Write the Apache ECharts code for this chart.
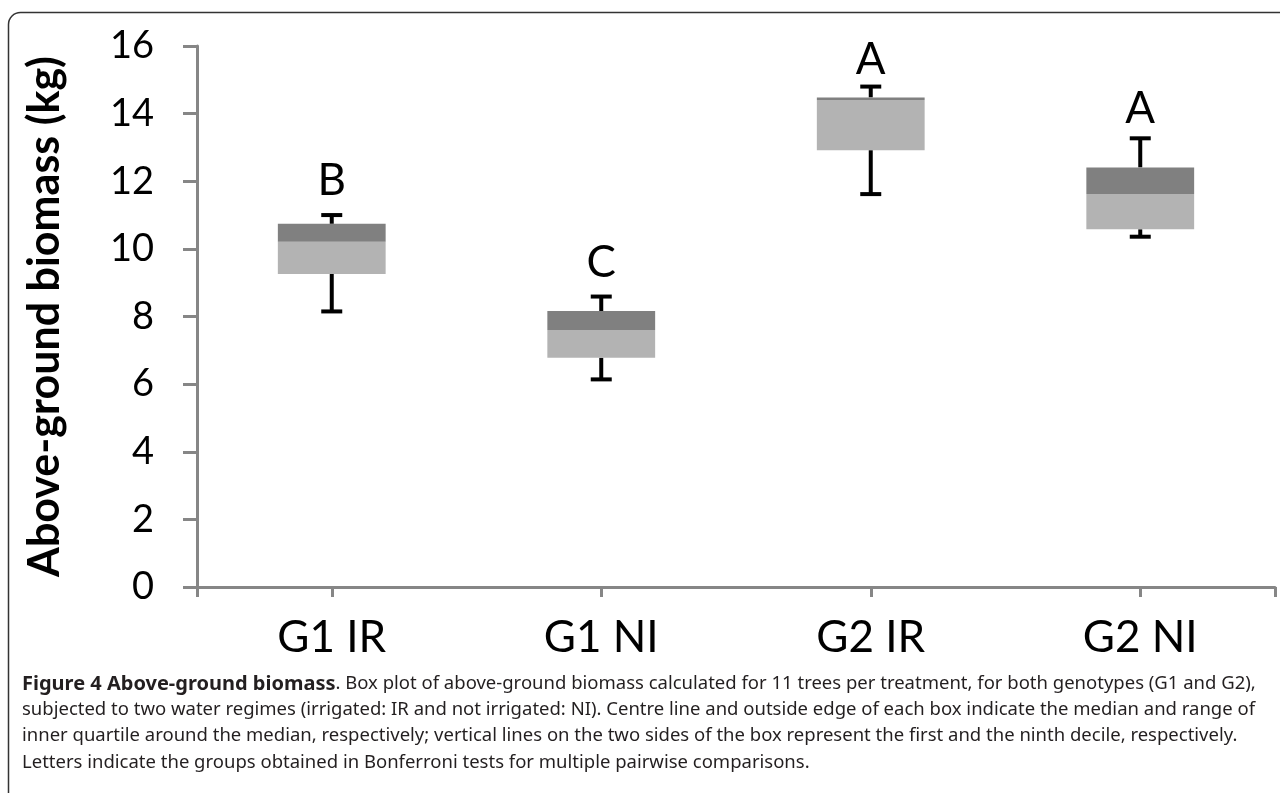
<!DOCTYPE html>
<html>
<head>
<meta charset="utf-8">
<script src="https://cdn.jsdelivr.net/npm/echarts@6/dist/echarts.min.js"></script>
<style>
  html, body { margin: 0; padding: 0; background: #fff; }
  #chart { width: 1280px; height: 793px; }
</style>
</head>
<body>
<div id="chart"></div>
<script>
// ---- data ----
const categories = ['G1 IR', 'G1 NI', 'G2 IR', 'G2 NI'];
const firstDecile = [8.15, 6.14, 11.62, 10.36];
const lowerQuartile = [9.26, 6.78, 12.92, 10.58];
const medians = [10.21, 7.60, 14.40, 11.62];
const upperQuartile = [10.74, 8.16, 14.48, 12.41];
const ninthDecile = [11.0, 8.59, 14.80, 13.27];
const groupLetters = ['B', 'C', 'A', 'A'];
const letterPositions = [12.0, 9.6, 15.6, 14.15];
const yTicks = { min: 0, max: 16, interval: 2 };

const captionLines = [
  [{ t: 'Figure 4 Above-ground biomass', b: true }, { t: '. Box plot of above-ground biomass calculated for 11 trees per treatment, for both genotypes (G1 and G2),' }],
  [{ t: 'subjected to two water regimes (irrigated: IR and not irrigated: NI). Centre line and outside edge of each box indicate the median and range of' }],
  [{ t: 'inner quartile around the median, respectively; vertical lines on the two sides of the box represent the first and the ninth decile, respectively.' }],
  [{ t: 'Letters indicate the groups obtained in Bonferroni tests for multiple pairwise comparisons.' }]
];

const boxData = categories.map((c, i) => [i, firstDecile[i], lowerQuartile[i], medians[i], upperQuartile[i], ninthDecile[i]]);
const letterData = categories.map((c, i) => [i, letterPositions[i], groupLetters[i]]);

const chart = echarts.init(document.getElementById('chart'), null, { renderer: 'canvas' });

const FONT = 'Lato';
const axisGray = '#868686';

function renderBox(params, api) {
  const i = api.value(0);
  const lo = api.coord([i, api.value(1)]);
  const q1 = api.coord([i, api.value(2)]);
  const md = api.coord([i, api.value(3)]);
  const q3 = api.coord([i, api.value(4)]);
  const hi = api.coord([i, api.value(5)]);
  const bw = api.size([1, 0])[0] * 0.4;
  const capW = 21;
  const x = q1[0];
  const lineStyle = { stroke: '#000', lineWidth: 4 };
  return {
    type: 'group',
    children: [
      { type: 'line', shape: { x1: x, y1: q1[1], x2: x, y2: lo[1] }, style: lineStyle },
      { type: 'line', shape: { x1: x - capW / 2, y1: lo[1], x2: x + capW / 2, y2: lo[1] }, style: lineStyle },
      { type: 'line', shape: { x1: x, y1: q3[1], x2: x, y2: hi[1] }, style: lineStyle },
      { type: 'line', shape: { x1: x - capW / 2, y1: hi[1], x2: x + capW / 2, y2: hi[1] }, style: lineStyle },
      { type: 'rect', shape: { x: x - bw / 2, y: md[1], width: bw, height: q1[1] - md[1] }, style: { fill: '#b3b3b3' } },
      { type: 'rect', shape: { x: x - bw / 2, y: q3[1], width: bw, height: md[1] - q3[1] }, style: { fill: '#808080' } }
    ]
  };
}

function renderLetter(params, api) {
  const p = api.coord([api.value(0), api.value(1)]);
  return {
    type: 'text',
    style: {
      text: groupLetters[params.dataIndex],
      x: p[0], y: p[1],
      align: 'center', verticalAlign: 'middle',
      font: '44px ' + FONT, fill: '#000'
    }
  };
}

const captionGraphics = captionLines.map((line, li) => {
  const rich = {
    b: { fontWeight: 'bold', fontSize: 20, fontFamily: 'Noto Sans', fill: '#231f20' },
    n: { fontSize: 18.5, fontFamily: 'Noto Sans', fill: '#231f20' }
  };
  const text = line.map(s => '{' + (s.b ? 'b' : 'n') + '|' + s.t + '}').join('');
  return {
    type: 'text',
    left: 22,
    top: 674 + li * 26.3,
    style: { text: text, rich: rich, fill: '#231f20' }
  };
});

const option = {
  animation: false,
  backgroundColor: '#fff',
  grid: { left: 197, right: 5, top: 46, bottom: 206, containLabel: false },
  xAxis: [
    {
      type: 'category',
      data: categories,
      boundaryGap: true,
      axisLine: { show: true, lineStyle: { color: axisGray, width: 3 } },
      axisTick: { show: true, alignWithLabel: true, length: 10, lineStyle: { color: axisGray, width: 3 } },
      axisLabel: { color: '#000', fontSize: 44, fontFamily: FONT, margin: 29 },
      splitLine: { show: false }
    },
    {
      type: 'category',
      data: [''],
      boundaryGap: true,
      position: 'bottom',
      axisLine: { show: false },
      axisTick: { show: true, length: 10, lineStyle: { color: axisGray, width: 3 } },
      axisLabel: { show: false },
      splitLine: { show: false }
    }
  ],
  yAxis: {
    type: 'value',
    min: yTicks.min, max: yTicks.max, interval: yTicks.interval,
    name: 'Above-ground biomass (kg)',
    nameLocation: 'middle',
    nameGap: 130,
    nameTextStyle: { color: '#000', fontSize: 43, fontWeight: 'bold', fontFamily: FONT },
    axisLine: { show: true, lineStyle: { color: axisGray, width: 3 } },
    axisTick: { show: true, length: 14, lineStyle: { color: axisGray, width: 3 } },
    axisLabel: { color: '#000', fontSize: 38, fontFamily: FONT, margin: 43 },
    splitLine: { show: false }
  },
  series: [
    { type: 'custom', renderItem: renderBox, data: boxData, encode: { x: 0, y: [1, 2, 3, 4, 5] }, z: 5 },
    { type: 'custom', renderItem: renderLetter, data: letterData, encode: { x: 0, y: 1 }, z: 6 }
  ],
  graphic: [
    {
      type: 'rect',
      shape: { x: 8.5, y: 12.5, width: 1320, height: 840, r: 12 },
      style: { fill: 'none', stroke: '#333', lineWidth: 1.5 },
      silent: true
    }
  ].concat(captionGraphics)
};

chart.setOption(option);
</script>
</body>
</html>
